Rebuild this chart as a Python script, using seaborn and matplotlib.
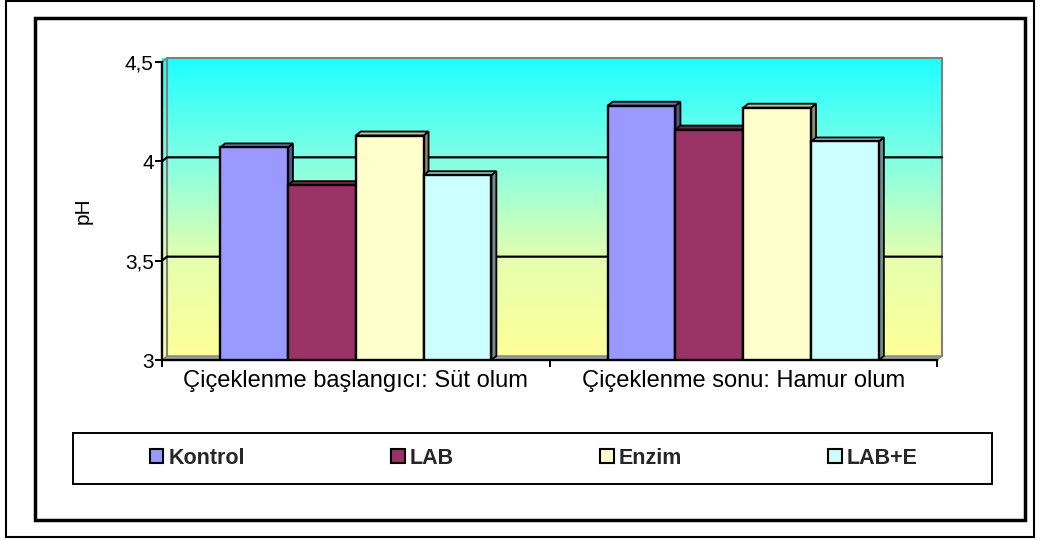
import numpy as np
import pandas as pd
import matplotlib
matplotlib.use("Agg")
import matplotlib.pyplot as plt
import seaborn as sns
from matplotlib.patches import Polygon, Rectangle, Patch
from matplotlib.colors import LinearSegmentedColormap, to_rgb

# --- data -------------------------------------------------------------
stages = ["Çiçeklenme başlangıcı: Süt olum", "Çiçeklenme sonu: Hamur olum"]
treatments = ["Kontrol", "LAB", "Enzim", "LAB+E"]
ph_start = [4.07, 3.88, 4.13, 3.93]
ph_end = [4.28, 4.16, 4.27, 4.10]
y_ticks = [3, 3.5, 4, 4.5]
y_tick_labels = ["3", "3,5", "4", "4,5"]
bar_colors = ["#9999FF", "#993366", "#FFFFCC", "#CCFFFF"]

df = pd.DataFrame({
    "stage": np.repeat(stages, len(treatments)),
    "treatment": treatments * len(stages),
    "pH": ph_start + ph_end,
})

sns.set_theme(style="white")
plt.rcParams["font.family"] = ["Liberation Sans", "DejaVu Sans"]

W, H = 1040, 540
fig = plt.figure(figsize=(W / 100, H / 100), dpi=100)
fig.patch.set_facecolor("white")

# front plane of the 3-D chart
ax = fig.add_axes([162 / W, 1 - 360 / H, 775 / W, 298 / H])
ax.patch.set_visible(False)

sns.barplot(data=df, x="stage", y="pH", hue="treatment", order=stages,
            hue_order=treatments, palette=bar_colors, width=0.7,
            saturation=1, edgecolor="black", linewidth=1.7, legend=False,
            ax=ax)
bars = sorted([p for p in ax.patches if isinstance(p, Rectangle)],
              key=lambda p: p.get_x())

x0, x1 = -0.5, 1.5
y0, y1 = 3.0, 4.5
ax.set_ylim(y0, y1)
ax.set_xlim(x0, x1)

# depth offset of the 3-D box, expressed in data units
px_x = ax.transData.transform((1, 3))[0] - ax.transData.transform((0, 3))[0]
px_y = ax.transData.transform((0, 4))[1] - ax.transData.transform((0, 3))[1]
dx = 5 / px_x
dy = 4 / px_y

# back wall with a vertical gradient
wall_cmap = LinearSegmentedColormap.from_list(
    "wall", [(0.0, "#FFFF99"), (0.33, "#E6FFAD"), (0.66, "#84FFE4"),
             (1.0, "#1CFFFF")])
grad = np.linspace(0, 1, 256).reshape(-1, 1)
outline = Polygon([(x0, y0), (x0, y1), (x0 + dx, y1 + dy), (x1 + dx, y1 + dy),
                   (x1 + dx, y0 + dy), (x1, y0)], closed=True,
                  transform=ax.transData, facecolor="none", edgecolor="none")
ax.add_patch(outline)
img = ax.imshow(grad, extent=(x0, x1 + dx, y0, y1 + dy), origin="lower",
                cmap=wall_cmap, aspect="auto", zorder=0.2, clip_on=False)
img.set_clip_path(outline)
ax.set_xlim(x0, x1)
ax.set_ylim(y0, y1)

# walls' grey frame and floor
grey = "#808080"
ax.add_patch(Polygon([(x0, y0), (x1, y0), (x1 + dx, y0 + dy), (x0 + dx, y0 + dy)],
                     closed=True, facecolor="#A0A0A0", edgecolor=grey,
                     linewidth=1.0, zorder=0.4, clip_on=False))
ax.plot([x0 + dx, x0 + dx, x1 + dx, x1 + dx], [y0 + dy, y1 + dy, y1 + dy, y0 + dy],
        color=grey, linewidth=1.5, zorder=0.4, clip_on=False)
ax.plot([x0, x0 + dx], [y1, y1 + dy], color=grey, linewidth=1.2, zorder=0.4,
        clip_on=False)

# gridlines on the back wall
for v in y_ticks[1:-1]:
    ax.plot([x0, x0 + dx, x1 + dx], [v, v + dy, v + dy], color="black",
            linewidth=1.6, zorder=0.6, clip_on=False)


def shade(color, f):
    r, g, b = to_rgb(color)
    return (r * f, g * f, b * f)


# 3-D faces for each bar; later bars cover earlier side faces
for i, p in enumerate(bars):
    bx, bw, bh = p.get_x(), p.get_width(), p.get_height()
    fc = p.get_facecolor()
    base = 2 + i * 0.1
    side = Polygon([(bx + bw, y0), (bx + bw, bh), (bx + bw + dx, bh + dy),
                    (bx + bw + dx, y0 + dy)], closed=True,
                   facecolor=shade(fc, 0.55), edgecolor="black",
                   linewidth=1.3, zorder=base, clip_on=False)
    top = Polygon([(bx, bh), (bx + bw, bh), (bx + bw + dx, bh + dy),
                   (bx + dx, bh + dy)], closed=True,
                  facecolor=shade(fc, 0.75), edgecolor="black",
                  linewidth=1.3, zorder=base, clip_on=False)
    ax.add_patch(side)
    ax.add_patch(top)
    p.set_zorder(base + 0.05)

# axes styling
for s in ["top", "right"]:
    ax.spines[s].set_visible(False)
for s in ["left", "bottom"]:
    ax.spines[s].set_color("black")
    ax.spines[s].set_linewidth(1.7)
    ax.spines[s].set_zorder(5)
ax.grid(False)
ax.set_yticks(y_ticks)
ax.set_yticklabels(y_tick_labels)
ax.set_xticks([0, 1])
ax.set_xticklabels(stages)
ax.set_xticks([-0.5, 0.5, 1.5], minor=True)
ax.tick_params(axis="y", which="major", left=True, direction="out", length=5,
               width=1.4, color="black", pad=1, labelsize=15, labelcolor="black")
ax.tick_params(axis="x", which="major", bottom=True, length=0, pad=7,
               labelsize=17, labelcolor="black")
ax.tick_params(axis="x", which="minor", bottom=True, direction="out", length=5,
               width=1.4, color="black")
ax.set_xlabel("")
ax.set_ylabel("pH", fontsize=15, color="black")
ax.yaxis.set_label_coords(-0.089, 0.5)

# legend
handles = [Patch(facecolor=c, edgecolor="black", linewidth=1.5, label=t)
           for c, t in zip(bar_colors, treatments)]
fig.legend(handles=handles, ncol=4, mode="expand", frameon=False, loc="center",
           bbox_to_anchor=(150 / W, 1 - 484 / H, (918 - 150) / W, 51 / H),
           borderpad=0, borderaxespad=0, columnspacing=0.5,
           handlelength=0.62, handleheight=0.62, handletextpad=0.25,
           prop={"weight": "bold", "size": 15.5})
fig.add_artist(Rectangle((73 / W, 1 - 484 / H), (992 - 73) / W, (484 - 433) / H,
                         transform=fig.transFigure, facecolor="none",
                         edgecolor="black", linewidth=1.4))

# chart frame and page frame
fig.add_artist(Rectangle((34.5 / W, 1 - 520 / H), (1025 - 34.5) / W, (520 - 18) / H,
                         transform=fig.transFigure, facecolor="none",
                         edgecolor="black", linewidth=2.5))
fig.add_artist(Rectangle((5.5 / W, 1 - 537 / H), (1034 - 5.5) / W, (537 - 0.8) / H,
                         transform=fig.transFigure, facecolor="none",
                         edgecolor="black", linewidth=1.5))

fig.savefig("out.png", dpi=100)
